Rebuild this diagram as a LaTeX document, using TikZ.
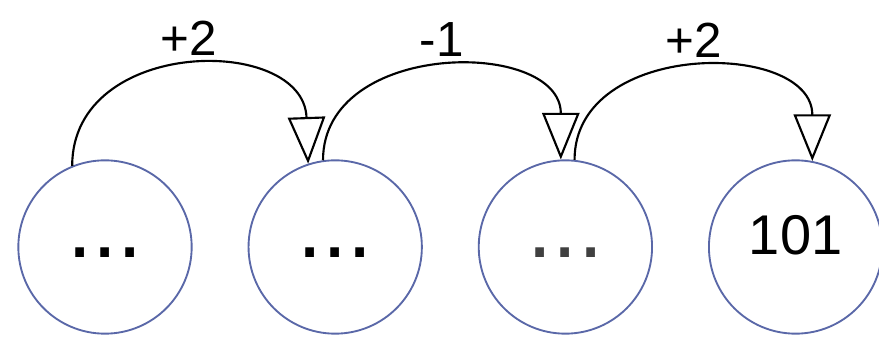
\documentclass[tikz,border=0pt]{standalone}
\usepackage{fontspec}
\setmainfont{Liberation Sans}
\usepackage{tikz}
\usetikzlibrary{positioning, arrows.meta}
\definecolor{ringblue}{HTML}{5A68A8}

\begin{document}
\begin{tikzpicture}[x=0.75pt, y=0.75pt,
    state/.style={circle, draw=ringblue, line width=1.4pt, minimum size=130pt, inner sep=0pt},
    dots/.style={font=\fontsize{68}{68}\selectfont, text height=16pt, text depth=0pt},
    hop/.style={line width=1.6pt, -{Triangle[open, length=35pt, width=28pt]}},
    hoplabel/.style={above=5pt, font=\fontsize{37}{38}\selectfont}]
    \useasboundingbox (0,0) rectangle (879,339);
    % states along the row
    \node[state, dots] (s1) at (105,92) {...};
    \node[state, dots, right=41.25pt of s1] (s2) {...};
    \node[state, dots, right=41.25pt of s2, text=black!75] (s3) {...};
    \node[state, right=41.25pt of s3, font=\fontsize{42}{42}\selectfont, text depth=18pt] (s4) {101};
    % jumps
    \draw[hop] (s1.112) to[out=90, in=92, looseness=1.4] node[hoplabel] (j1) {+2} (s2.108);
    \draw[hop] (s2.98) to[out=90, in=90, looseness=1.3] node[hoplabel] (j2) {-1} (s3.93);
    \draw[hop] (s3.84) to[out=90, in=90, looseness=1.3] node[hoplabel] (j3) {+2} (s4.79);
\end{tikzpicture}
\end{document}
